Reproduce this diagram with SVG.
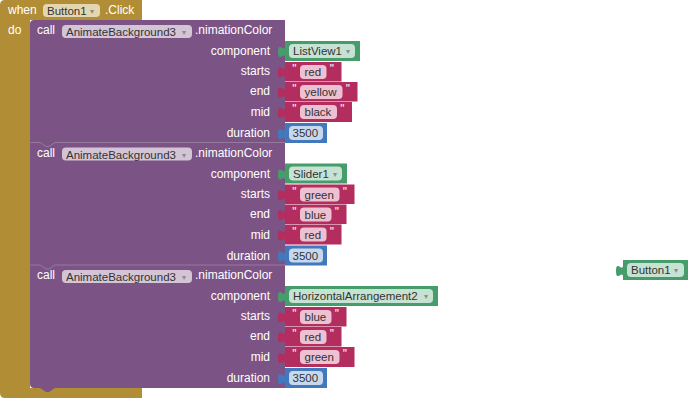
<svg xmlns="http://www.w3.org/2000/svg" width="690" height="399" viewBox="0 0 690 399">
<style>
text{font-family:"Liberation Sans",Arial,sans-serif;font-size:12px}
.lbl{fill:#fff}
.end{text-anchor:end}
.ptxt{fill:#333;font-size:11.5px}
.arr{fill:#8c8c8c;font-size:8px;text-anchor:middle}
.q{fill:#f3d6e0;font-size:10px;font-weight:bold}
.gold{fill:#B18E35}
.purple{fill:#7C5385}
.green{fill:#479C6C}
.str{fill:#B32D5E}
.num{fill:#4279BD}
.pg{fill:#E4D7B0}
.pp{fill:#D3C5D6}
.pgr{fill:#C6E2D2}
.ps{fill:#EDC1D1}
.pn{fill:#C7D8EE}
.seam{fill:none;stroke:#947A9C;stroke-width:1}
</style>

<g id="event-when-Button1-Click">
<path class="gold" d="M0,5 Q0,0 5,0 H142 V20 H30 V388 H142 V398 H5 Q0,398 0,393 Z"/>
<text class="lbl" x="8" y="14">when</text>
<rect class="pg" x="43" y="4" width="57" height="13" rx="4"/>
<text class="ptxt" x="47" y="15">Button1</text>
<text class="arr" x="92" y="14">▾</text>
<text class="lbl" x="105" y="14">.Click</text>
<text class="lbl" x="8" y="34">do</text>
</g>

<g id="call-blocks-bg">
<path class="purple" d="M34,20 H285 V388 H55 l-6,4 h-3 l-6,-4 H34 Q30,388 30,384 V24 Q30,20 34,20 Z"/>
<path class="seam" d="M30.5,142.5 H40 l6,4 h3 l6,-4 H285"/>
<path class="seam" d="M30.5,265 H40 l6,4 h3 l6,-4 H285"/>
</g>

<!-- Call block 1 (T=20) -->
<g id="call1">
<text class="lbl" x="37" y="34">call</text>
<rect class="pp" x="62" y="25" width="130" height="13" rx="4"/>
<text class="ptxt" x="66" y="36">AnimateBackground3</text>
<text class="arr" x="184" y="35">▾</text>
<text class="lbl" x="195" y="34">.nimationColor</text>
<text class="lbl end" x="270" y="55">component</text>
<text class="lbl end" x="270" y="75">starts</text>
<text class="lbl end" x="270" y="95">end</text>
<text class="lbl end" x="270" y="116">mid</text>
<text class="lbl end" x="270" y="137">duration</text>
</g>
<g id="c1-component">
<path class="green" d="M285,41 H360 V61 H285 V58 c0,-8 -7,6 -7,-6 s7,2 7,-6 Z"/>
<rect class="pgr" x="289" y="44" width="66" height="14" rx="4"/>
<text class="ptxt" x="293" y="55">ListView1</text>
<text class="arr" x="348" y="54">▾</text>
</g>
<g id="c1-starts">
<path class="str" d="M285,62 H341.5 V81.5 H285 V78.5 c0,-8 -7,6 -7,-6 s7,2 7,-6 Z"/>
<text class="q" x="292" y="72">"</text>
<rect class="ps" x="300" y="65" width="26.5" height="14" rx="4"/>
<text class="ptxt" x="304.5" y="76">red</text>
<text class="q" x="329.5" y="72">"</text>
</g>
<g id="c1-end">
<path class="str" d="M285,82 H357.5 V101.5 H285 V98.5 c0,-8 -7,6 -7,-6 s7,2 7,-6 Z"/>
<text class="q" x="292" y="92">"</text>
<rect class="ps" x="300" y="85" width="42.5" height="14" rx="4"/>
<text class="ptxt" x="304.5" y="96">yellow</text>
<text class="q" x="345.5" y="92">"</text>
</g>
<g id="c1-mid">
<path class="str" d="M285,102 H352 V122 H285 V119 c0,-8 -7,6 -7,-6 s7,2 7,-6 Z"/>
<text class="q" x="292" y="112">"</text>
<rect class="ps" x="300" y="105" width="37" height="14" rx="4"/>
<text class="ptxt" x="304.5" y="116">black</text>
<text class="q" x="340" y="112">"</text>
</g>
<g id="c1-duration">
<path class="num" d="M285,123 H327 V143 H285 V140 c0,-8 -7,6 -7,-6 s7,2 7,-6 Z"/>
<rect class="pn" x="289" y="126" width="34" height="14" rx="4"/>
<text class="ptxt" x="292.5" y="137">3500</text>
</g>

<!-- Call block 2 (T=142.5) -->
<g id="call2">
<text class="lbl" x="37" y="156.5">call</text>
<rect class="pp" x="62" y="147.5" width="130" height="13" rx="4"/>
<text class="ptxt" x="66" y="158.5">AnimateBackground3</text>
<text class="arr" x="184" y="157.5">▾</text>
<text class="lbl" x="195" y="156.5">.nimationColor</text>
<text class="lbl end" x="270" y="177.5">component</text>
<text class="lbl end" x="270" y="197.5">starts</text>
<text class="lbl end" x="270" y="217.5">end</text>
<text class="lbl end" x="270" y="238.5">mid</text>
<text class="lbl end" x="270" y="259.5">duration</text>
</g>
<g id="c2-component">
<path class="green" d="M285,163.5 H347 V183.5 H285 V180.5 c0,-8 -7,6 -7,-6 s7,2 7,-6 Z"/>
<rect class="pgr" x="289" y="166.5" width="53" height="14" rx="4"/>
<text class="ptxt" x="293" y="177.5">Slider1</text>
<text class="arr" x="335" y="176.5">▾</text>
</g>
<g id="c2-starts">
<path class="str" d="M285,184.5 H354.5 V204 H285 V201 c0,-8 -7,6 -7,-6 s7,2 7,-6 Z"/>
<text class="q" x="292" y="194.5">"</text>
<rect class="ps" x="300" y="187.5" width="39.5" height="14" rx="4"/>
<text class="ptxt" x="304.5" y="198.5">green</text>
<text class="q" x="342.5" y="194.5">"</text>
</g>
<g id="c2-end">
<path class="str" d="M285,204.5 H346.5 V224 H285 V221 c0,-8 -7,6 -7,-6 s7,2 7,-6 Z"/>
<text class="q" x="292" y="214.5">"</text>
<rect class="ps" x="300" y="207.5" width="31.5" height="14" rx="4"/>
<text class="ptxt" x="304.5" y="218.5">blue</text>
<text class="q" x="334.5" y="214.5">"</text>
</g>
<g id="c2-mid">
<path class="str" d="M285,224.5 H341.5 V244.5 H285 V241.5 c0,-8 -7,6 -7,-6 s7,2 7,-6 Z"/>
<text class="q" x="292" y="234.5">"</text>
<rect class="ps" x="300" y="227.5" width="26.5" height="14" rx="4"/>
<text class="ptxt" x="304.5" y="238.5">red</text>
<text class="q" x="329.5" y="234.5">"</text>
</g>
<g id="c2-duration">
<path class="num" d="M285,245.5 H327 V265.5 H285 V262.5 c0,-8 -7,6 -7,-6 s7,2 7,-6 Z"/>
<rect class="pn" x="289" y="248.5" width="34" height="14" rx="4"/>
<text class="ptxt" x="292.5" y="259.5">3500</text>
</g>

<!-- Call block 3 (T=265) -->
<g id="call3">
<text class="lbl" x="37" y="279">call</text>
<rect class="pp" x="62" y="270" width="130" height="13" rx="4"/>
<text class="ptxt" x="66" y="281">AnimateBackground3</text>
<text class="arr" x="184" y="280">▾</text>
<text class="lbl" x="195" y="279">.nimationColor</text>
<text class="lbl end" x="270" y="300">component</text>
<text class="lbl end" x="270" y="320">starts</text>
<text class="lbl end" x="270" y="340">end</text>
<text class="lbl end" x="270" y="361">mid</text>
<text class="lbl end" x="270" y="382">duration</text>
</g>
<g id="c3-component">
<path class="green" d="M285,286 H438 V306 H285 V303 c0,-8 -7,6 -7,-6 s7,2 7,-6 Z"/>
<rect class="pgr" x="289" y="289" width="144" height="14" rx="4"/>
<text class="ptxt" x="293" y="300">HorizontalArrangement2</text>
<text class="arr" x="426" y="299">▾</text>
</g>
<g id="c3-starts">
<path class="str" d="M285,307 H346.5 V326.5 H285 V323.5 c0,-8 -7,6 -7,-6 s7,2 7,-6 Z"/>
<text class="q" x="292" y="317">"</text>
<rect class="ps" x="300" y="310" width="31.5" height="14" rx="4"/>
<text class="ptxt" x="304.5" y="321">blue</text>
<text class="q" x="334.5" y="317">"</text>
</g>
<g id="c3-end">
<path class="str" d="M285,327 H341.5 V346.5 H285 V343.5 c0,-8 -7,6 -7,-6 s7,2 7,-6 Z"/>
<text class="q" x="292" y="337">"</text>
<rect class="ps" x="300" y="330" width="26.5" height="14" rx="4"/>
<text class="ptxt" x="304.5" y="341">red</text>
<text class="q" x="329.5" y="337">"</text>
</g>
<g id="c3-mid">
<path class="str" d="M285,347 H354.5 V367 H285 V364 c0,-8 -7,6 -7,-6 s7,2 7,-6 Z"/>
<text class="q" x="292" y="357">"</text>
<rect class="ps" x="300" y="350" width="39.5" height="14" rx="4"/>
<text class="ptxt" x="304.5" y="361">green</text>
<text class="q" x="342.5" y="357">"</text>
</g>
<g id="c3-duration">
<path class="num" d="M285,368 H327 V388 H285 V385 c0,-8 -7,6 -7,-6 s7,2 7,-6 Z"/>
<rect class="pn" x="289" y="371" width="34" height="14" rx="4"/>
<text class="ptxt" x="292.5" y="382">3500</text>
</g>

<!-- Floating component block -->
<g id="floating-Button1">
<path class="green" d="M623,260 H688 V280 H623 V277 c0,-8 -7,6 -7,-6 s7,2 7,-6 Z"/>
<rect class="pgr" x="627" y="263" width="57" height="14" rx="4"/>
<text class="ptxt" x="631" y="274">Button1</text>
<text class="arr" x="676" y="273">▾</text>
</g>

<g id="connectors"/>
</svg>
